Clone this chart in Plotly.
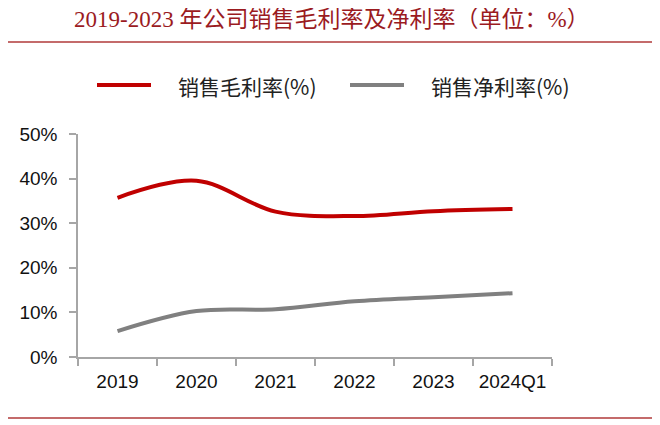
import plotly.graph_objects as go

categories = ["2019", "2020", "2021", "2022", "2023", "2024Q1"]
gross_margin = [35.7, 39.5, 32.6, 31.6, 32.7, 33.2]
net_margin = [5.8, 10.3, 10.7, 12.5, 13.4, 14.3]
series_names = ["销售毛利率(%)", "销售净利率(%)"]
y_ticks = [0, 10, 20, 30, 40, 50]
y_tick_labels = ["0%", "10%", "20%", "30%", "40%", "50%"]
title_text = "2019-2023 年公司销售毛利率及净利率（单位：%）"

RED = "#C00000"
GRAY = "#808080"
AXIS = "#A6A6A6"
TXT_FONT = "Liberation Sans, Arial, Noto Sans CJK SC"

fig = go.Figure()
fig.add_trace(go.Scatter(x=categories, y=gross_margin, mode="lines", name=series_names[0],
                         line=dict(color=RED, width=4, shape="spline", smoothing=1.0)))
fig.add_trace(go.Scatter(x=categories, y=net_margin, mode="lines", name=series_names[1],
                         line=dict(color=GRAY, width=4, shape="spline", smoothing=1.0)))

# page offset of the figure inside the HTML body
OFF = 8
W, H = 660, 425
ml, mr, mt, mb = 78 - OFF, 116, 134 - OFF, 76
pw, ph = W - ml - mr, H - mt - mb

def px(x):
    return (x - OFF - ml) / pw

def py(y):
    return (H - mb - (y - OFF)) / ph

shapes = [
    dict(type="line", xref="paper", yref="paper", x0=px(0), x1=px(680), y0=py(42), y1=py(42),
         line=dict(color="#B03A3A", width=1.5)),
    dict(type="line", xref="paper", yref="paper", x0=px(0), x1=px(680), y0=py(418), y1=py(418),
         line=dict(color="#B03A3A", width=1.5)),
    dict(type="line", xref="paper", yref="paper", x0=px(97), x1=px(151), y0=py(85), y1=py(85),
         line=dict(color=RED, width=4)),
    dict(type="line", xref="paper", yref="paper", x0=px(350), x1=px(404), y0=py(85), y1=py(85),
         line=dict(color=GRAY, width=4)),
]
annotations = [
    dict(text=title_text, xref="paper", yref="paper", x=px(332), y=py(19), showarrow=False,
         xanchor="center", yanchor="middle",
         font=dict(family="Liberation Serif, Noto Sans CJK SC", size=23, color="#9B1B1F")),
    dict(text=series_names[0], xref="paper", yref="paper", x=px(176), y=py(86), showarrow=False,
         xanchor="left", yanchor="middle", font=dict(family="Noto Sans CJK SC", size=21, color="#222222")),
    dict(text=series_names[1], xref="paper", yref="paper", x=px(429), y=py(86), showarrow=False,
         xanchor="left", yanchor="middle", font=dict(family="Noto Sans CJK SC", size=21, color="#222222")),
]

fig.update_layout(
    width=W, height=H,
    margin=dict(l=ml, r=mr, t=mt, b=mb),
    paper_bgcolor="white", plot_bgcolor="white",
    showlegend=False,
    shapes=shapes, annotations=annotations,
    font=dict(family=TXT_FONT, size=19, color="#111111"),
)
fig.update_xaxes(
    type="category", range=[-0.5, 5.5], showgrid=False, zeroline=False,
    showline=True, linecolor=AXIS, linewidth=1.5,
    ticks="outside", tickson="boundaries", ticklen=7, tickcolor=AXIS, tickwidth=1.5,
    tickfont=dict(family=TXT_FONT, size=19, color="#111111"), ticklabelstandoff=6,
)
fig.update_yaxes(
    range=[0, 50], tickvals=y_ticks, ticktext=y_tick_labels, showgrid=False, zeroline=False,
    showline=True, linecolor=AXIS, linewidth=1.5,
    ticks="outside", ticklen=7, tickcolor=AXIS, tickwidth=1.5,
    tickfont=dict(family=TXT_FONT, size=19, color="#111111"), ticklabelstandoff=8,
)

fig.write_html("out.html")
